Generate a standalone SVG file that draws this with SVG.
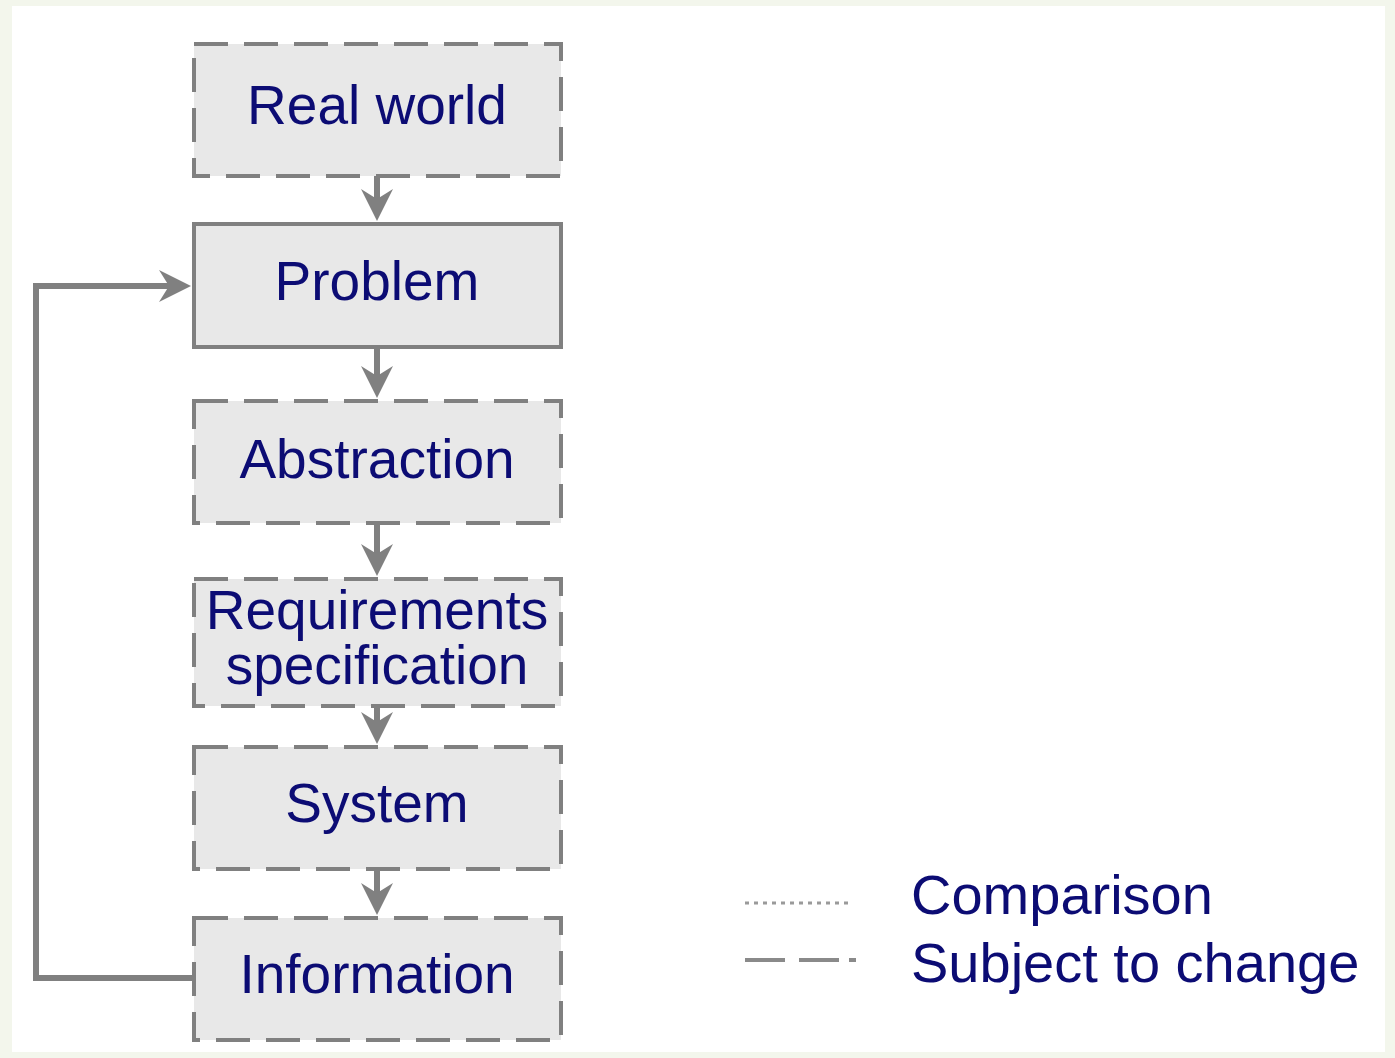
<svg xmlns="http://www.w3.org/2000/svg" width="1395" height="1058" viewBox="0 0 1395 1058">
<defs>
<style>
.box{fill:#e8e8e8;stroke:#808080;stroke-width:4}
.dash{stroke-dasharray:34 16}
.lbl{font-family:"Liberation Sans",Arial,sans-serif;font-size:55px;fill:#0c0c74;text-anchor:middle}
.leg{font-family:"Liberation Sans",Arial,sans-serif;font-size:56px;fill:#0c0c74}
.con{fill:none;stroke:#808080;stroke-width:6}
</style>
<marker id="ah" viewBox="0 0 32 32" refX="12" refY="16" markerWidth="32" markerHeight="32" markerUnits="userSpaceOnUse" orient="auto">
<path d="M0,0 L32,16 L0,32 L10,16 Z" fill="#808080"/>
</marker>
</defs>
<rect x="0" y="0" width="1395" height="1058" fill="#f3f6ec"/>
<rect x="12" y="6" width="1373" height="1046" fill="#ffffff"/>

<g id="connectors">
<line class="con" x1="377" y1="176" x2="377" y2="201" marker-end="url(#ah)"/>
<line class="con" x1="377" y1="347" x2="377" y2="378" marker-end="url(#ah)"/>
<line class="con" x1="377" y1="523" x2="377" y2="556" marker-end="url(#ah)"/>
<line class="con" x1="377" y1="706" x2="377" y2="724" marker-end="url(#ah)"/>
<line class="con" x1="377" y1="869" x2="377" y2="895" marker-end="url(#ah)"/>
<polyline class="con" points="193,978 36,978 36,286 171,286" marker-end="url(#ah)"/>
</g>

<g id="real-world">
<rect class="box dash" x="194" y="44" width="367" height="132"/>
<text class="lbl" x="377" y="124">Real world</text>
</g>
<g id="problem">
<rect class="box" x="194" y="224" width="367" height="123"/>
<text class="lbl" x="377" y="300">Problem</text>
</g>
<g id="abstraction">
<rect class="box dash" x="194" y="401" width="367" height="122"/>
<text class="lbl" x="377" y="478">Abstraction</text>
</g>
<g id="requirements">
<rect class="box dash" x="194" y="579" width="367" height="127"/>
<text class="lbl" x="377" y="629">Requirements</text>
<text class="lbl" x="377" y="684">specification</text>
</g>
<g id="system">
<rect class="box dash" x="194" y="747" width="367" height="122"/>
<text class="lbl" x="377" y="822">System</text>
</g>
<g id="information">
<rect class="box dash" x="194" y="918" width="367" height="122"/>
<text class="lbl" x="377" y="993">Information</text>
</g>

<g id="legend">
<line x1="745" y1="903" x2="853" y2="903" stroke="#9a9a9a" stroke-width="3" stroke-dasharray="4 5"/>
<line x1="745" y1="960" x2="856" y2="960" stroke="#8a8a8a" stroke-width="4" stroke-dasharray="40 14 40 10 7 100"/>
<text class="leg" x="911" y="914">Comparison</text>
<text class="leg" x="911" y="982">Subject to change</text>
</g>
</svg>
